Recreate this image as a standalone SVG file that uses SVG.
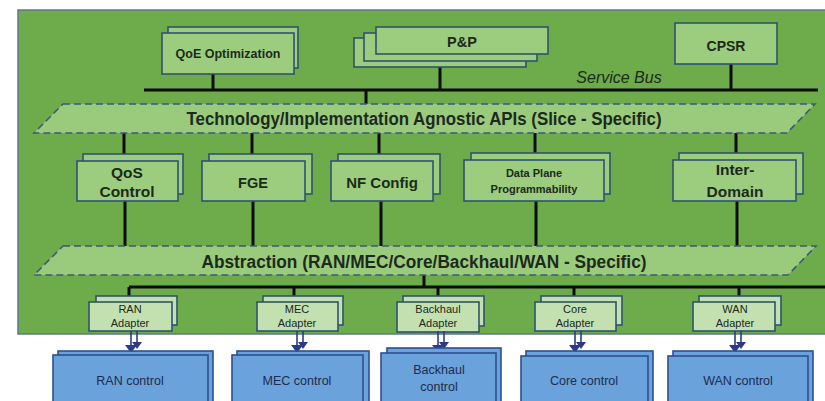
<svg xmlns="http://www.w3.org/2000/svg" xmlns:xlink="http://www.w3.org/1999/xlink" width="825" height="401" viewBox="0 0 825 401">
  <style>
    .panel { fill: #6dab4b; stroke: #5c7a8a; stroke-width: 1.5; }
    .box { fill: #9ccd7e; stroke: #2f5370; stroke-width: 1.6; }
    .adp { fill: #c3e0b0; stroke: #2f5370; stroke-width: 1.6; }
    .ctl { fill: #6aa2dc; stroke: #2f4f8f; stroke-width: 1.6; }
    .band { fill: #9acb7d; stroke: #3c5a78; stroke-width: 1.6; stroke-dasharray: 7 4; }
    .wire { stroke: #0d0d0d; stroke-width: 3; fill: none; }
    .t { font-family: "Liberation Sans", Arial, sans-serif; fill: #1c2a1c; text-anchor: middle; }
    .b { font-weight: bold; }
    .tc { font-family: "Liberation Sans", Arial, sans-serif; fill: #1d2c4e; text-anchor: middle; }
    .arr { stroke: #2d3b86; stroke-width: 1.6; fill: none; }
    .arrh { fill: #2d3b86; }
  </style>
  <defs>
    <!-- paired downward arrow from an adapter to its control -->
    <g id="dblArrow">
      <line class="arr" x1="6" y1="331" x2="6" y2="343"/>
      <polygon class="arrh" points="1,342 11,342 6,349"/>
      <line class="arr" x1="0" y1="331" x2="0" y2="346"/>
      <polygon class="arrh" points="-6,345 6,345 0,353"/>
    </g>
  </defs>

  <!-- background panel -->
  <rect class="panel" x="18" y="10" width="815" height="324"/>

  <!-- connectors -->
  <g id="connectors">
    <!-- service bus -->
    <line class="wire" x1="144" y1="90" x2="818" y2="90"/>
    <line class="wire" x1="213" y1="74" x2="213" y2="90"/>
    <line class="wire" x1="440" y1="67" x2="440" y2="90"/>
    <line class="wire" x1="731" y1="64" x2="731" y2="90"/>
    <line class="wire" x1="366" y1="90" x2="366" y2="104"/>
    <!-- APIs to functions -->
    <line class="wire" x1="124" y1="133" x2="124" y2="154"/>
    <line class="wire" x1="252" y1="133" x2="252" y2="154"/>
    <line class="wire" x1="379" y1="133" x2="379" y2="154"/>
    <line class="wire" x1="535" y1="133" x2="535" y2="153"/>
    <line class="wire" x1="736" y1="133" x2="736" y2="153"/>
    <!-- functions to abstraction -->
    <line class="wire" x1="125" y1="201" x2="125" y2="246"/>
    <line class="wire" x1="253" y1="201" x2="253" y2="246"/>
    <line class="wire" x1="381" y1="201" x2="381" y2="246"/>
    <line class="wire" x1="536" y1="201" x2="536" y2="246"/>
    <line class="wire" x1="737" y1="201" x2="737" y2="246"/>
    <!-- adapter bus -->
    <line class="wire" x1="424" y1="275" x2="424" y2="287"/>
    <line class="wire" x1="129" y1="287" x2="825" y2="287"/>
    <line class="wire" x1="129" y1="287" x2="129" y2="297"/>
    <line class="wire" x1="294" y1="287" x2="294" y2="297"/>
    <line class="wire" x1="438" y1="287" x2="438" y2="297"/>
    <line class="wire" x1="574" y1="287" x2="574" y2="297"/>
    <line class="wire" x1="739" y1="287" x2="739" y2="297"/>
  </g>

  <!-- top applications -->
  <g id="qoe">
    <rect class="box" x="168" y="27" width="130" height="41"/>
    <rect class="box" x="162" y="33" width="132" height="41"/>
    <text class="t b" x="228" y="58" font-size="12.5">QoE Optimization</text>
  </g>
  <g id="pnp">
    <rect class="box" x="354" y="38" width="172" height="29"/>
    <rect class="box" x="364" y="33" width="173" height="28"/>
    <rect class="box" x="376" y="27" width="172" height="27"/>
    <text class="t b" x="462" y="47" font-size="14.5">P&amp;P</text>
  </g>
  <g id="cpsr">
    <rect class="box" x="675" y="23" width="102" height="41"/>
    <text class="t b" x="726" y="51" font-size="14">CPSR</text>
  </g>
  <text class="t" x="619" y="83" font-size="16" font-style="italic">Service Bus</text>

  <!-- slice-specific API layer -->
  <g id="apis">
    <polygon class="band" points="63,104 815,104 787,133 34,133"/>
    <text class="t b" x="424" y="125" font-size="17.5" textLength="475" lengthAdjust="spacingAndGlyphs">Technology/Implementation Agnostic APIs (Slice - Specific)</text>
  </g>

  <!-- control functions -->
  <g id="qos">
    <rect class="box" x="83" y="154" width="100" height="40"/>
    <rect class="box" x="77" y="161" width="101" height="40"/>
    <text class="t b" x="127" y="178" font-size="15.5">QoS</text>
    <text class="t b" x="127" y="197" font-size="15.5">Control</text>
  </g>
  <g id="fge">
    <rect class="box" x="209" y="154" width="103" height="40"/>
    <rect class="box" x="202" y="161" width="103" height="40"/>
    <text class="t b" x="253" y="188" font-size="14.5">FGE</text>
  </g>
  <g id="nfconfig">
    <rect class="box" x="338" y="154" width="102" height="40"/>
    <rect class="box" x="331" y="161" width="102" height="40"/>
    <text class="t b" x="382" y="188" font-size="15">NF Config</text>
  </g>
  <g id="dataplane">
    <rect class="box" x="471" y="153" width="139" height="41"/>
    <rect class="box" x="464" y="160" width="140" height="41"/>
    <text class="t b" x="534" y="177" font-size="11">Data Plane</text>
    <text class="t b" x="534" y="193" font-size="11">Programmability</text>
  </g>
  <g id="interdomain">
    <rect class="box" x="679" y="153" width="124" height="41"/>
    <rect class="box" x="673" y="160" width="123" height="41"/>
    <text class="t b" x="735" y="175" font-size="15.5">Inter-</text>
    <text class="t b" x="735" y="197" font-size="15.5">Domain</text>
  </g>

  <!-- domain abstraction layer -->
  <g id="abstraction">
    <polygon class="band" points="63,246 816,246 788,275 34,275"/>
    <text class="t b" x="424" y="268" font-size="17.5" textLength="445" lengthAdjust="spacingAndGlyphs">Abstraction (RAN/MEC/Core/Backhaul/WAN - Specific)</text>
  </g>

  <!-- adapters -->
  <g id="ranAdapter">
    <rect class="adp" x="96" y="296" width="81" height="29"/>
    <rect class="adp" x="89" y="302" width="83" height="29"/>
    <text class="t" x="130" y="313" font-size="11">RAN</text>
    <text class="t" x="130" y="327" font-size="11">Adapter</text>
  </g>
  <g id="mecAdapter">
    <rect class="adp" x="263" y="296" width="80" height="29"/>
    <rect class="adp" x="257" y="302" width="81" height="29"/>
    <text class="t" x="297" y="313" font-size="11">MEC</text>
    <text class="t" x="297" y="327" font-size="11">Adapter</text>
  </g>
  <g id="backhaulAdapter">
    <rect class="adp" x="403" y="296" width="81" height="30"/>
    <rect class="adp" x="397" y="302" width="82" height="30"/>
    <text class="t" x="438" y="313" font-size="11">Backhaul</text>
    <text class="t" x="438" y="327" font-size="11">Adapter</text>
  </g>
  <g id="coreAdapter">
    <rect class="adp" x="541" y="296" width="81" height="29"/>
    <rect class="adp" x="535" y="302" width="81" height="29"/>
    <text class="t" x="575" y="313" font-size="11">Core</text>
    <text class="t" x="575" y="327" font-size="11">Adapter</text>
  </g>
  <g id="wanAdapter">
    <rect class="adp" x="699" y="296" width="82" height="29"/>
    <rect class="adp" x="693" y="302" width="82" height="29"/>
    <text class="t" x="735" y="313" font-size="11">WAN</text>
    <text class="t" x="735" y="327" font-size="11">Adapter</text>
  </g>

  <!-- adapter to control arrows -->
  <g id="adapterArrows">
    <use xlink:href="#dblArrow" transform="translate(131,0)"/>
    <use xlink:href="#dblArrow" transform="translate(297,0)"/>
    <use xlink:href="#dblArrow" transform="translate(438,0)"/>
    <use xlink:href="#dblArrow" transform="translate(575,0)"/>
    <use xlink:href="#dblArrow" transform="translate(735,0)"/>
  </g>

  <!-- domain controllers -->
  <g id="ranControl">
    <rect class="ctl" x="58" y="351" width="155" height="55"/>
    <rect class="ctl" x="53" y="355" width="155" height="55"/>
    <text class="tc" x="130" y="385" font-size="12.5">RAN control</text>
  </g>
  <g id="mecControl">
    <rect class="ctl" x="237" y="351" width="132" height="55"/>
    <rect class="ctl" x="232" y="355" width="131" height="55"/>
    <text class="tc" x="297" y="385" font-size="12.5">MEC control</text>
  </g>
  <g id="backhaulControl">
    <rect class="ctl" x="387" y="348" width="114" height="58"/>
    <rect class="ctl" x="381" y="353" width="115" height="58"/>
    <text class="tc" x="439" y="374" font-size="12.5">Backhaul</text>
    <text class="tc" x="439" y="391" font-size="12.5">control</text>
  </g>
  <g id="coreControl">
    <rect class="ctl" x="526" y="351" width="127" height="55"/>
    <rect class="ctl" x="521" y="356" width="127" height="55"/>
    <text class="tc" x="584" y="385" font-size="12.5">Core control</text>
  </g>
  <g id="wanControl">
    <rect class="ctl" x="673" y="351" width="140" height="55"/>
    <rect class="ctl" x="668" y="356" width="140" height="55"/>
    <text class="tc" x="738" y="385" font-size="12.5">WAN control</text>
  </g>
</svg>
